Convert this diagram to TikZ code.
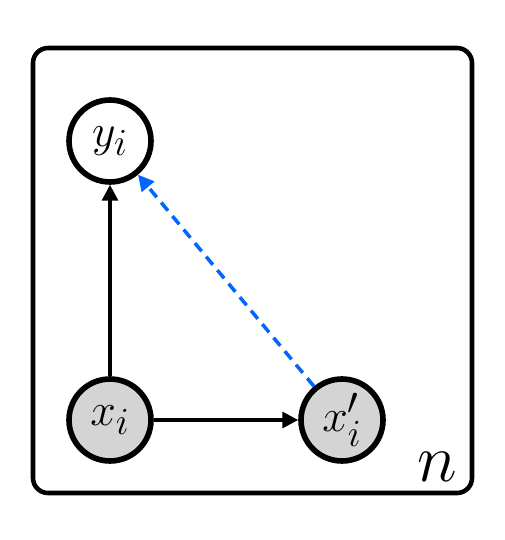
\documentclass[tikz,border=0pt]{standalone}
\usepackage{amsmath,amssymb}
\usepackage{tikz}
\usepackage{xcolor}
\usetikzlibrary{positioning,arrows.meta}
\definecolor{dashblue}{RGB}{0,102,255}
\newcommand{\varlbl}[1]{\scalebox{1.05}{$#1$}}

\begin{document}
\begin{tikzpicture}[x=0.02cm,y=-0.02cm,
    var/.style={circle,draw,line width=3.2pt,minimum size=1.64cm,inner sep=0pt,
      font=\Huge},
    obs/.style={var,fill=black!17},
    edge/.style={line width=2pt,-{Triangle[length=9pt,width=9pt]}},
    dedge/.style={edge,dashblue,dash pattern=on 6pt off 4pt}]
  \useasboundingbox (0,0) rectangle (504,540);
  % plate
  \draw[line width=2.6pt,rounded corners=0.3cm] (33,48) rectangle (472,493);
  \node[font=\Huge] (plate) at (437,467) {\scalebox{1.55}{$n$}};
  % variables
  \node[var] (yi) at (110,141) {\varlbl{y_i}};
  \node[obs] (xi) at (110,420) {\varlbl{x_i}};
  \node[obs] (xpi) at (342,420) {\varlbl{x_i'}};
  % edges
  \draw[edge] (xi) -- (yi);
  \draw[edge] (xi) -- (xpi);
  \draw[dedge] (xpi) -- (yi);
\end{tikzpicture}
\end{document}
